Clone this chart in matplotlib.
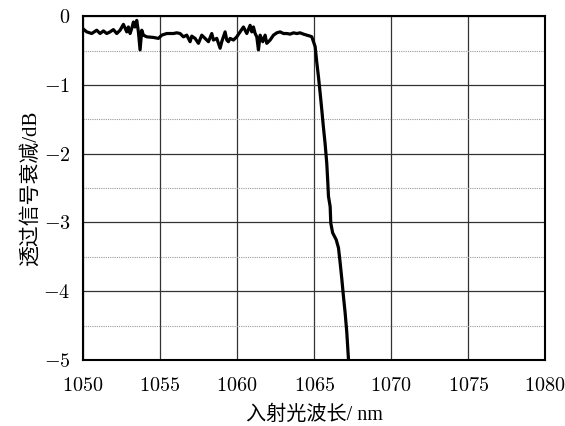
import numpy as np
import matplotlib.pyplot as plt
from matplotlib.ticker import MultipleLocator

plt.rcParams['font.family'] = ['Liberation Serif', 'Noto Sans CJK SC']
plt.rcParams['mathtext.fontset'] = 'cm'

# wavelength (nm) and transmitted attenuation (dB)
zx_flat = [8, 20, 35, 50, 60, 70, 80, 90, 100, 110, 120, 130, 140, 145, 150,
           155, 160, 165, 170, 175, 180, 185, 190, 200, 220, 235, 245, 260,
           280, 290, 300, 310, 320, 330, 335, 345, 355, 365, 375, 385, 395,
           400, 410, 420, 425, 435, 440, 445, 450, 460, 470, 480, 490, 500,
           510, 515, 520, 525, 530, 535, 540, 548, 555, 560, 570, 580, 590,
           600, 610, 620, 630, 640, 650, 660, 670, 680, 690, 695, 700, 705]
zy_flat = [85, 95, 100, 90, 100, 92, 100, 95, 88, 100, 90, 72, 95, 80, 100,
           85, 65, 80, 60, 95, 150, 90, 105, 110, 112, 115, 105, 100,
           100, 98, 100, 110, 105, 125, 108, 115, 130, 105, 115, 125, 100,
           120, 115, 145, 125, 95, 120, 125, 115, 120, 110, 95, 80, 100,
           75, 95, 80, 100, 110, 150, 105, 125, 105, 130, 120, 105, 98,
           95, 100, 100, 102, 98, 100, 98, 102, 105, 108, 110, 125, 140]

wl_flat = [round(1050 + (zx / 3 - 3) / 15.4, 3) for zx in zx_flat]
att_flat = [round(-(zy / 3 - 15.7) / 70, 3) for zy in zy_flat]

wl_edge = [1065.17, 1065.28, 1065.39, 1065.50, 1065.60, 1065.71, 1065.82,
           1065.89, 1065.93, 1066.04, 1066.08, 1066.20, 1066.43, 1066.58,
           1066.69, 1066.80, 1066.90, 1067.01, 1067.12, 1067.23]
att_edge = [-0.67, -0.88, -1.12, -1.37, -1.61, -1.85, -2.14,
            -2.43, -2.62, -2.77, -3.01, -3.15, -3.25, -3.37,
            -3.59, -3.83, -4.07, -4.31, -4.60, -5.00]

wl = wl_flat + wl_edge
att = att_flat + att_edge

x_ticks = [1050, 1055, 1060, 1065, 1070, 1075, 1080]
y_ticks = [0, -1, -2, -3, -4, -5]

fig = plt.figure(figsize=(5.65, 4.26), dpi=100)
ax = fig.add_axes([0.147, 0.155, 0.818, 0.807])

ax.plot(wl, att, color='black', linewidth=2.3, solid_joinstyle='round')

ax.set_xlim(1050, 1080)
ax.set_ylim(-5, 0)
ax.set_xticks(x_ticks)
ax.set_xticklabels(['$%d$' % v for v in x_ticks])
ax.set_yticks(y_ticks)
ax.set_yticklabels(['$%d$' % v for v in y_ticks])
ax.yaxis.set_minor_locator(MultipleLocator(0.5))

ax.grid(which='major', color='#333333', linewidth=0.9)
ax.grid(which='minor', axis='y', color='#999999', linewidth=0.8, linestyle=(0, (1, 1)))
ax.tick_params(which='both', length=0, labelsize=14.5)
ax.tick_params(axis='x', pad=12)
ax.tick_params(axis='y', pad=9)
for s in ax.spines.values():
    s.set_linewidth(1.5)

ax.set_xlabel('入射光波长/ nm', fontsize=14.5, labelpad=7)
ax.set_ylabel('透过信号衰减/dB', fontsize=15, labelpad=2)

fig.savefig('out.png', dpi=100)
